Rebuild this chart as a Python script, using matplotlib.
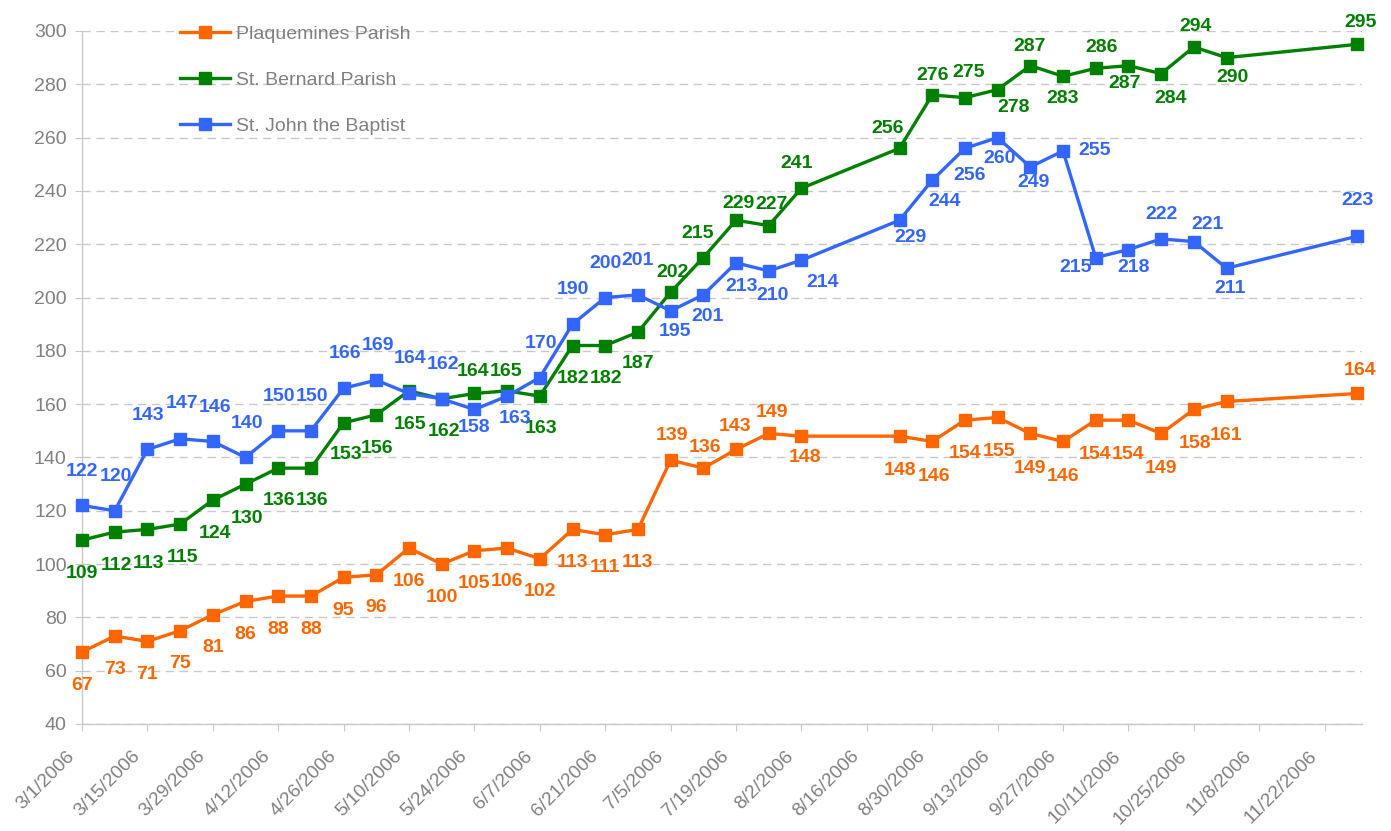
import matplotlib
matplotlib.use('Agg')
import matplotlib.pyplot as plt
import pandas as pd

# ---------------- data ----------------
dates = ['2006-03-01', '2006-03-08', '2006-03-15', '2006-03-22', '2006-03-29',
         '2006-04-05', '2006-04-12', '2006-04-19', '2006-04-26', '2006-05-03',
         '2006-05-10', '2006-05-17', '2006-05-24', '2006-05-31', '2006-06-07',
         '2006-06-14', '2006-06-21', '2006-06-28', '2006-07-05', '2006-07-12',
         '2006-07-19', '2006-07-26', '2006-08-02', '2006-08-23', '2006-08-30',
         '2006-09-06', '2006-09-13', '2006-09-20', '2006-09-27', '2006-10-04',
         '2006-10-11', '2006-10-18', '2006-10-25', '2006-11-01', '2006-11-29']

plaquemines = [67, 73, 71, 75, 81, 86, 88, 88, 95, 96, 106, 100, 105, 106, 102,
               113, 111, 113, 139, 136, 143, 149, 148, 148, 146, 154, 155, 149,
               146, 154, 154, 149, 158, 161, 164]
st_bernard = [109, 112, 113, 115, 124, 130, 136, 136, 153, 156, 165, 162, 164,
              165, 163, 182, 182, 187, 202, 215, 229, 227, 241, 256, 276, 275,
              278, 287, 283, 286, 287, 284, 294, 290, 295]
st_john = [122, 120, 143, 147, 146, 140, 150, 150, 166, 169, 164, 162, 158, 163,
           170, 190, 200, 201, 195, 201, 213, 210, 214, 229, 244, 256, 260, 249,
           255, 215, 218, 222, 221, 211, 223]

series_names = ['Plaquemines Parish', 'St. Bernard Parish', 'St. John the Baptist']

tick_dates = ['2006-03-01', '2006-03-15', '2006-03-29', '2006-04-12', '2006-04-26',
              '2006-05-10', '2006-05-24', '2006-06-07', '2006-06-21', '2006-07-05',
              '2006-07-19', '2006-08-02', '2006-08-16', '2006-08-30', '2006-09-13',
              '2006-09-27', '2006-10-11', '2006-10-25', '2006-11-08', '2006-11-22']

# label offsets (dx right, dy down) in pixels
orange_off = [(0, 33)] * 18 + [(1, -25), (2, -21), (-1, -23), (3, -21), (4, 21)] + \
             [(1, 34), (2, 35), (0, 33), (1, 34), (0, 35), (0, 35), (-1, 34), (0, 34),
              (0, 35), (1, 34), (0, 34)] + [(3, -23)]
green_off = [(0, 33), (2, 33), (1, 34), (2, 33), (2, 33), (1, 34), (1, 32), (1, 32),
             (2, 32), (1, 34), (1, 34), (2, 33), (-1, -22), (-1, -19), (1, 32), (0, 33),
             (1, 33), (0, 31), (2, -20), (-6, -24), (2, -17), (3, -21), (-5, -25),
             (-12, -20), (0, -19), (4, -25), (16, 18), (-1, -19), (0, 22), (6, -21),
             (-4, 18), (10, 25), (2, -20), (6, 20), (3, -22)]
blue_off = [(0, -34), (1, -34), (1, -34), (2, -35), (2, -34), (1, -34), (1, -34),
            (1, -34), (1, -35), (2, -35), (1, -35), (1, -34), (0, 18), (8, 22), (1, -34),
            (0, -35), (0, -34), (0, -34), (4, 21), (4, 22), (6, 24), (4, 25), (21, 22),
            (11, 17), (12, 21), (5, 27), (2, 21), (3, 16), (32, 0), (-20, 10), (5, 18),
            (0, -24), (14, -17), (4, 20), (0, -36)]

colors = ['#FF6600', '#008000', '#3366FF']

# ---------------- plot ----------------
plt.rcParams['font.family'] = ['Liberation Sans', 'DejaVu Sans']

x = pd.to_datetime(dates)
xt = pd.to_datetime(tick_dates)

fig = plt.figure(figsize=(13.91, 8.31), dpi=100)
ax = fig.add_axes([82 / 1391, 1 - 724 / 831, (1362 - 82) / 1391, (724 - 31) / 831])

gray = '#808080'
for vals, offs, col, name in zip([plaquemines, st_bernard, st_john],
                                 [orange_off, green_off, blue_off], colors, series_names):
    ax.plot(x, vals, color=col, lw=2.4, marker='s', markersize=8.5,
            markeredgecolor=col, markerfacecolor=col, label=name, zorder=3,
            clip_on=False)
    for xi, v, (dx, dy) in zip(x, vals, offs):
        ax.annotate(str(v), (xi, v), xytext=(dx, -dy), textcoords='offset pixels',
                    ha='center', va='center', fontsize=14, fontweight='bold',
                    color=col, zorder=5, annotation_clip=False)

ax.set_ylim(40, 300)
ax.set_yticks(range(40, 301, 20))
ax.set_xlim(x[0], x[-1] + pd.Timedelta(days=1))
ax.set_xticks(xt)
ax.set_xticklabels([f"{d.month}/{d.day}/{d.year}" for d in xt])

ax.grid(axis='y', color='#C8C8C8', linestyle=(0, (6, 4)), linewidth=1)
ax.set_axisbelow(True)
for s in ['top', 'right']:
    ax.spines[s].set_visible(False)
for s in ['left', 'bottom']:
    ax.spines[s].set_color('#C8C8C8')
    ax.spines[s].set_linewidth(1)

ax.tick_params(axis='y', colors='#C8C8C8', labelcolor=gray, labelsize=14,
               length=5, pad=6)
ax.tick_params(axis='x', colors='#C8C8C8', labelcolor=gray, labelsize=13.8,
               length=5, pad=4)

trans_off = matplotlib.transforms.ScaledTranslation(-16 / 100, -11 / 100, fig.dpi_scale_trans)
for lab in ax.get_xticklabels():
    lab.set_rotation(45)
    lab.set_ha('right')
    lab.set_va('top')
    lab.set_rotation_mode('anchor')
    lab.set_transform(lab.get_transform() + trans_off)

leg = ax.legend(loc='upper left', bbox_to_anchor=(162 / 1391, 1 - 8 / 831),
                bbox_transform=fig.transFigure, frameon=False, fontsize=14,
                handlelength=2.6, handletextpad=0.3, labelspacing=1.45)
for t in leg.get_texts():
    t.set_color(gray)

fig.savefig('out.png', dpi=100)
